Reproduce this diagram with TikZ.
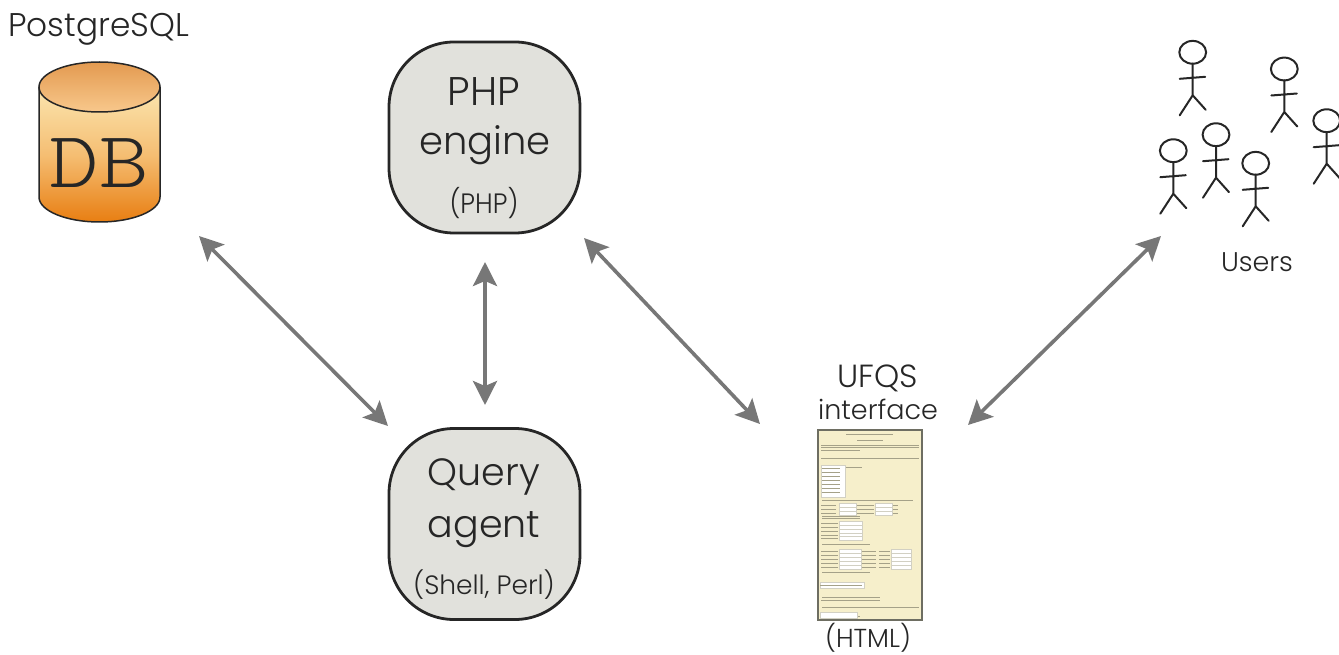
\documentclass[tikz,border=0pt]{standalone}
\usepackage{fontspec}
\setmainfont{Poppins Light}
\newfontfamily\dbfont{Latin Modern Mono Light}
\usetikzlibrary{arrows.meta}
\definecolor{boxfill}{HTML}{E1E1DC}
\definecolor{arrowgray}{HTML}{777777}
\definecolor{pagefill}{HTML}{F6EFCB}
\definecolor{pageedge}{HTML}{6E6E62}
\definecolor{inkline}{HTML}{A5A188}
\definecolor{cylA}{HTML}{FBE6B0}
\definecolor{cylB}{HTML}{F5BE73}
\definecolor{cylC}{HTML}{E87E12}
\definecolor{capA}{HTML}{E39A50}
\definecolor{capB}{HTML}{F8C88C}
\tikzset{
  roundbox/.style={draw=black!85,line width=2.8pt,fill=boxfill,rounded corners=65pt,minimum width=191pt,minimum height=191pt,inner sep=0pt},
  biarrow/.style={draw=arrowgray,line width=3.6pt,{Stealth[length=24pt,width=24pt,inset=5pt]}-{Stealth[length=24pt,width=24pt,inset=5pt]}},
  lbl/.style={inner sep=0pt,text=black!85,align=center},
  stick/.style={draw=black!85,line width=2pt,line cap=round,line join=round},
  ink/.style={draw=inkline,line width=.45pt},
  field/.style={fill=white,draw=inkline!50,line width=.2pt}
}
\newcommand{\stickman}[2]{%
  \draw[stick] (#1,#2) ellipse [x radius=13.4pt,y radius=11.4pt];
  \draw[stick] (#1,#2+11.4) -- (#1,#2+43) (#1-13,#2+26.5) -- (#1+12.5,#2+24.5)
     (#1-13,#2+63) -- (#1,#2+43) -- (#1+13,#2+57.5);}
\begin{document}
\begin{tikzpicture}[x=1pt,y=-1pt]
\useasboundingbox (0,0) rectangle (1339,655);
% labels
\node[lbl,font=\fontsize{32.8}{34}\selectfont,anchor=base west] (pg) at (8,37) {PostgreSQL};
% cylinder
\path[top color=cylA,bottom color=cylC,middle color=cylB]
  (39,87) -- (39,197) arc[start angle=180,end angle=360,x radius=60.5pt,y radius=25pt] -- (160,87) -- cycle;
\draw[black!85,line width=1.5pt] (39,87) -- (39,197) arc[start angle=180,end angle=360,x radius=60.5pt,y radius=25pt] -- (160,87);
\draw[black!85,line width=1.5pt,top color=capA,bottom color=capB] (99.5,87) ellipse[x radius=60.5pt,y radius=25pt];
\node[lbl,font=\dbfont\fontsize{80}{80}\selectfont,xscale=1.18] (db) at (99.5,163) {DB};
% rounded boxes
\node[roundbox] (php) at (484.5,137.5) {};
\node[lbl,font=\fontsize{40}{42}\selectfont] (phpa) at (484,92) {PHP};
\node[lbl,font=\fontsize{38.5}{42}\selectfont] (phpb) at (485,145) {engine};
\node[lbl,font=\fontsize{28}{30}\selectfont,xscale=.93] (phpc) at (484,203) {(PHP)};
\node[roundbox] (qa) at (484.5,524) {};
\node[lbl,font=\fontsize{38}{40}\selectfont] (qaa) at (484,477) {Query};
\node[lbl,font=\fontsize{38}{40}\selectfont] (qab) at (484,530) {agent};
\node[lbl,font=\fontsize{26.5}{28}\selectfont] (qac) at (484,585) {(Shell, Perl)};
% interface
\node[lbl,font=\fontsize{32}{34}\selectfont] (ui1) at (878,378) {UFQS};
\node[lbl,font=\fontsize{27}{30}\selectfont] (ui2) at (878,409) {interface};
\node[lbl,font=\fontsize{26}{28}\selectfont] (ui3) at (868,638) {(HTML)};
\node[draw=pageedge,line width=2.4pt,fill=pagefill,minimum width=104pt,minimum height=190pt,inner sep=0pt] (page) at (870,525) {};
\draw[ink,line width=.9pt] (846,434) -- (893,434);
\draw[ink,line width=.7pt] (857,440.5) -- (883,440.5);
\foreach \y/\a/\b in {445/821/919,447.5/821/919,450/821/860,458.5/821/919,500/822/913,516/822/860,518/822/860,544/822/870,572/822/870,597/822/880,607/822/919,616/822/860}
  \draw[ink] (\a,\y) -- (\b,\y);
\path[field] (821,465) rectangle (845,497);
\draw[ink] (846,467) -- (862,467);
\foreach \y in {468,472,476,480,484,488,492}
  \draw[ink,line width=.3pt] (822,\y) -- (840,\y);
\foreach \y in {505,509,513}{
  \draw[ink] (821,\y) -- (836,\y);
  \path[field] (839,\y-1.6) rectangle (856,\y+1.6);
  \path[field] (875,\y-1.6) rectangle (892,\y+1.6);
  \draw[ink] (857,\y) -- (874,\y) (893,\y) -- (898,\y);
}
\foreach \y in {523,527,531,535,538}{
  \draw[ink] (821,\y) -- (838,\y);
  \path[field] (839,\y-1.6) rectangle (862,\y+1.6);
}
\foreach \y in {551,555,559,563,567}{
  \draw[ink] (821,\y) -- (838,\y);
  \path[field] (839,\y-1.6) rectangle (861,\y+1.6);
  \draw[ink] (862,\y) -- (876,\y) (879,\y) -- (890,\y);
  \path[field] (891,\y-1.6) rectangle (911,\y+1.6);
}
\path[field] (820,582) rectangle (864,588);
\draw[ink] (820,585) -- (862,585);
\draw[ink] (821,600) -- (880,600);
\path[field] (820,612) rectangle (857,618);
% users
\stickman{1192.7}{52.3}
\stickman{1284.3}{69}
\stickman{1216}{134.7}
\stickman{1173.3}{150.7}
\stickman{1255.7}{163.3}
\stickman{1326.7}{120.7}
\node[lbl,font=\fontsize{27}{30}\selectfont] (users) at (1257,262) {Users};
% connectors
\coordinate (a1) at (199,236); \coordinate (a2) at (388,426);
\coordinate (b1) at (485,262); \coordinate (b2) at (485,405);
\coordinate (c1) at (584,238); \coordinate (c2) at (760,424);
\coordinate (d1) at (968,425); \coordinate (d2) at (1161,236);
\draw[biarrow] (a1) -- (a2);
\draw[biarrow] (b1) -- (b2);
\draw[biarrow] (c1) -- (c2);
\draw[biarrow] (d1) -- (d2);
\end{tikzpicture}
\end{document}
